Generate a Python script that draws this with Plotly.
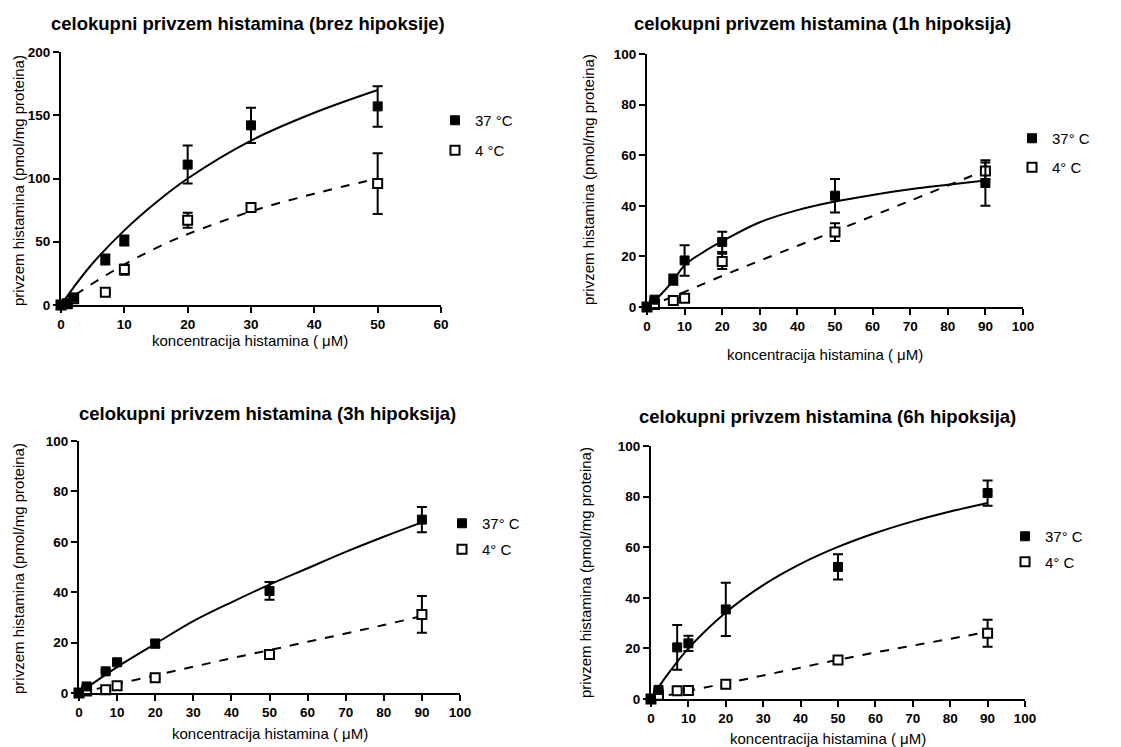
import plotly.graph_objects as go

W, H = 1121, 747
FONT = "Liberation Sans, Arial, sans-serif"

# ---------------- data ----------------
titles = ["celokupni privzem histamina (brez hipoksije)",
          "celokupni privzem histamina (1h hipoksija)",
          "celokupni privzem histamina (3h hipoksija)",
          "celokupni privzem histamina (6h hipoksija)"]
legend_37 = ["37 °C", "37° C", "37° C", "37° C"]
legend_4 = ["4 °C", "4° C", "4° C", "4° C"]
x_title = "koncentracija histamina ( μM)"
y_title = "privzem histamina (pmol/mg proteina)"

# panel 1 (brez hipoksije)
x_p1 = [0, 1, 2, 7, 10, 20, 30, 50]
y37_p1 = [0, 1, 6, 36, 51, 111, 142, 157]
e37_p1 = [0, 0, 1, 4, 4, 15, 14, 16]
y4_p1 = [0, 1, 5, 10, 28, 67, 77, 96]
e4_p1 = [0, 0, 1, 1, 4, 6, 2, 24]
cx37_p1 = [0, 2, 5, 10, 15, 20, 30, 40, 50]
cy37_p1 = [0, 14, 33, 59, 81, 100, 130, 152, 170]
cx4_p1 = [0, 2, 5, 10, 15, 20, 30, 40, 50]
cy4_p1 = [0, 7, 17, 32, 45, 56, 74, 88, 100]

# panel 2 (1h)
x_p2 = [0, 2, 7, 10, 20, 50, 90]
y37_p2 = [0, 2.9, 10.8, 18.4, 25.7, 44, 49]
e37_p2 = [0, 1, 2, 6, 4, 6.6, 9]
y4_p2 = [0, 1, 2.6, 3.5, 18, 29.6, 53.8]
e4_p2 = [0, 0.5, 0.5, 0.5, 3, 3.5, 3.3]
cx37_p2 = [0, 2, 5, 7, 10, 15, 20, 30, 40, 50, 60, 70, 80, 90]
cy37_p2 = [0, 2.5, 7, 10.5, 16.5, 21.7, 26, 33.5, 38.3, 41.7, 44.3, 46.5, 48.3, 50]
cx4_p2 = [0, 10, 20, 30, 50, 70, 90]
cy4_p2 = [0, 6, 12.3, 18.3, 30, 42, 54]

# panel 3 (3h)
x_p3 = [0, 2, 7, 10, 20, 50, 90]
y37_p3 = [0, 2.6, 8.6, 12.2, 19.6, 40.5, 68.8]
e37_p3 = [0, 0.5, 0.5, 0.5, 1.5, 3.5, 5]
y4_p3 = [0, 0.8, 1.3, 2.9, 6.1, 15.3, 31.2]
e4_p3 = [0, 0.3, 0.3, 0.5, 0.5, 1.8, 7.3]
cx37_p3 = [0, 10, 20, 30, 40, 50, 60, 70, 80, 90]
cy37_p3 = [0, 10.3, 19.5, 28.5, 36, 43, 49.5, 56, 62, 67.7]
cx4_p3 = [0, 10, 20, 30, 40, 50, 60, 70, 80, 90]
cy4_p3 = [0, 3.5, 7, 10.4, 13.8, 17, 20.3, 23.6, 27, 30.5]

# panel 4 (6h)
x_p4 = [0, 2, 7, 10, 20, 50, 90]
y37_p4 = [0, 3.6, 20.4, 22, 35.4, 52.2, 81.4]
e37_p4 = [0, 0.5, 8.8, 3, 10.5, 5, 5]
y4_p4 = [0, 1.5, 3.3, 3.4, 5.8, 15.4, 26]
e4_p4 = [0, 0.3, 0.3, 0.3, 0.5, 1, 5.3]
cx37_p4 = [0, 2, 5, 10, 20, 30, 40, 50, 60, 70, 80, 90]
cy37_p4 = [0, 4.6, 10.8, 20, 34.2, 45, 53.4, 60.1, 65.6, 70.2, 74.1, 77.5]
cx4_p4 = [0, 10, 20, 30, 40, 50, 60, 70, 80, 90]
cy4_p4 = [0, 3.2, 6.2, 9.3, 12.4, 15.5, 18.4, 21.1, 23.8, 26.5]

x_ranges = [[0, 60], [0, 100], [0, 100], [0, 100]]
y_ranges = [[0, 200], [0, 100], [0, 100], [0, 100]]
x_dticks = [10, 10, 10, 10]
y_dticks = [50, 20, 20, 20]

panels = [
    (x_p1, y37_p1, e37_p1, y4_p1, e4_p1, cx37_p1, cy37_p1, cx4_p1, cy4_p1),
    (x_p2, y37_p2, e37_p2, y4_p2, e4_p2, cx37_p2, cy37_p2, cx4_p2, cy4_p2),
    (x_p3, y37_p3, e37_p3, y4_p3, e4_p3, cx37_p3, cy37_p3, cx4_p3, cy4_p3),
    (x_p4, y37_p4, e37_p4, y4_p4, e4_p4, cx37_p4, cy37_p4, cx4_p4, cy4_p4),
]

# ---------------- layout (pixel boxes) ----------------
# plot area boxes: (left, right, top, bottom) in px
boxes = [(61, 441, 52, 305), (647, 1023, 54, 307), (79, 460, 441, 693), (651, 1025, 446, 699)]
title_pos = [(248, 23), (822, 23), (267, 413), (827, 417)]
xtitle_pos = [(250, 340), (825, 354), (270, 733), (828, 738)]
ytitle_pos = [(18, 181), (588, 180), (18, 569), (585, 573)]
legend_pos = [(455, 119), (1032, 137), (462, 522), (1025, 535)]
legend_gap = [7.5, 6.5, 3.5, 3]

def px(x):
    return x / W

def py(y):
    return 1 - y / H

fig = go.Figure()
layout = dict(
    width=W, height=H,
    margin=dict(l=0, r=0, t=0, b=0, autoexpand=False),
    paper_bgcolor="white", plot_bgcolor="white",
    font=dict(family=FONT, color="black"),
    annotations=[],
)

for i, (xd, y37, e37, y4, e4, cx37, cy37, cx4, cy4) in enumerate(panels):
    n = "" if i == 0 else str(i + 1)
    xa, ya = "x" + n, "y" + n
    lg = "legend" + n
    # fitted curves
    fig.add_trace(go.Scatter(x=cx37, y=cy37, mode="lines", line=dict(color="black", width=2, shape="spline"),
                             xaxis=xa, yaxis=ya, showlegend=False, hoverinfo="skip"))
    fig.add_trace(go.Scatter(x=cx4, y=cy4, mode="lines", line=dict(color="black", width=2, dash="dash", shape="spline"),
                             xaxis=xa, yaxis=ya, showlegend=False, hoverinfo="skip"))
    # data points
    fig.add_trace(go.Scatter(x=xd, y=y4, mode="markers", name=legend_4[i],
                             marker=dict(symbol="square", size=9, color="white", line=dict(color="black", width=2)),
                             error_y=dict(type="data", array=e4, color="black", thickness=2, width=5),
                             cliponaxis=False, xaxis=xa, yaxis=ya, legend=lg, legendgroup="b" + n, legendrank=2))
    fig.add_trace(go.Scatter(x=xd, y=y37, mode="markers", name=legend_37[i],
                             marker=dict(symbol="square", size=9, color="black", line=dict(color="black", width=1)),
                             error_y=dict(type="data", array=e37, color="black", thickness=2, width=5),
                             cliponaxis=False, xaxis=xa, yaxis=ya, legend=lg, legendgroup="a" + n, legendrank=1))

    l, r, t, b = boxes[i]
    axis_common = dict(showline=True, linecolor="black", linewidth=2, ticks="outside", ticklen=6,
                       tickwidth=2, tickcolor="black", showgrid=False, zeroline=False,
                       tickfont=dict(family=FONT, size=13.5, color="black", weight="bold"))
    layout["xaxis" + n] = dict(domain=[px(l), px(r)], range=x_ranges[i], dtick=x_dticks[i], tick0=0,
                               anchor=ya, **axis_common)
    layout["yaxis" + n] = dict(domain=[py(b), py(t)], range=y_ranges[i], dtick=y_dticks[i], tick0=0,
                               anchor=xa, **axis_common)
    lx, ly = legend_pos[i]
    layout[lg] = dict(x=px(lx - 20), y=py(ly - 15), xanchor="left", yanchor="top",
                      font=dict(family=FONT, size=15, color="black"), bgcolor="rgba(0,0,0,0)",
                      traceorder="grouped", tracegroupgap=legend_gap[i], itemclick=False)

    tx, ty = title_pos[i]
    layout["annotations"].append(dict(text=titles[i], x=px(tx), y=py(ty), xref="paper", yref="paper",
                                      showarrow=False, xanchor="center", yanchor="middle",
                                      font=dict(family=FONT, size=18.5, color="black", weight="bold")))
    xx, xy = xtitle_pos[i]
    layout["annotations"].append(dict(text=x_title, x=px(xx), y=py(xy), xref="paper", yref="paper",
                                      showarrow=False, xanchor="center", yanchor="middle",
                                      font=dict(family=FONT, size=15, color="black")))
    yx, yy = ytitle_pos[i]
    layout["annotations"].append(dict(text=y_title, x=px(yx), y=py(yy), xref="paper", yref="paper",
                                      showarrow=False, xanchor="center", yanchor="middle", textangle=-90,
                                      font=dict(family=FONT, size=15, color="black")))

fig.update_layout(**layout)
fig.write_html("out.html")
